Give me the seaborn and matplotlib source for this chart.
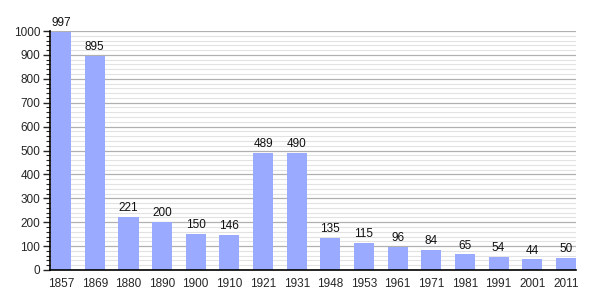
import matplotlib
matplotlib.use("Agg")
import matplotlib.pyplot as plt
import seaborn as sns
import pandas as pd
from matplotlib.ticker import MultipleLocator

years = ["1857", "1869", "1880", "1890", "1900", "1910", "1921", "1931", "1948",
         "1953", "1961", "1971", "1981", "1991", "2001", "2011"]
population = [997, 895, 221, 200, 150, 146, 489, 490, 135, 115, 96, 84, 65, 54, 44, 50]

sns.set_style("white")
plt.rcParams['font.family'] = ['Liberation Sans', 'DejaVu Sans']

df = pd.DataFrame({"year": years, "pop": population})

fig = plt.figure(figsize=(6.05, 3.00), dpi=100)
ax = fig.add_axes([50/605, 30/300, 526/605, 239/300])

sns.barplot(data=df, x="year", y="pop", color="#99aaff", saturation=1, width=0.6,
            linewidth=0, edgecolor="none", ax=ax, zorder=2)

for i, v in enumerate(population):
    ax.annotate(str(v), (i, v), xytext=(0, 2), textcoords="offset points",
                ha="center", va="bottom", fontsize=8.5, color="#111111")

ax.set_ylim(0, 1000)
ax.set_xlim(-0.33, len(years) - 1 + 0.3)
ax.yaxis.set_major_locator(MultipleLocator(100))
ax.yaxis.set_minor_locator(MultipleLocator(20))
ax.grid(axis="y", which="major", color="#b0b0b0", linewidth=0.9, zorder=0)
ax.grid(axis="y", which="minor", color="#e2e2e2", linewidth=0.8, zorder=0)
ax.set_axisbelow(True)

for s in ["top", "right"]:
    ax.spines[s].set_visible(False)
for s in ["left", "bottom"]:
    ax.spines[s].set_color("black")
    ax.spines[s].set_linewidth(1.2)
    ax.spines[s].set_zorder(5)

ax.tick_params(axis="y", which="major", left=True, length=5, width=1, labelsize=8.5, pad=2)
ax.tick_params(axis="y", which="minor", left=True, length=3, width=0.8)
ax.tick_params(axis="x", bottom=False, labelsize=8.5, pad=2)
ax.set_xlabel("")
ax.set_ylabel("")

fig.savefig("out.png", dpi=100)
